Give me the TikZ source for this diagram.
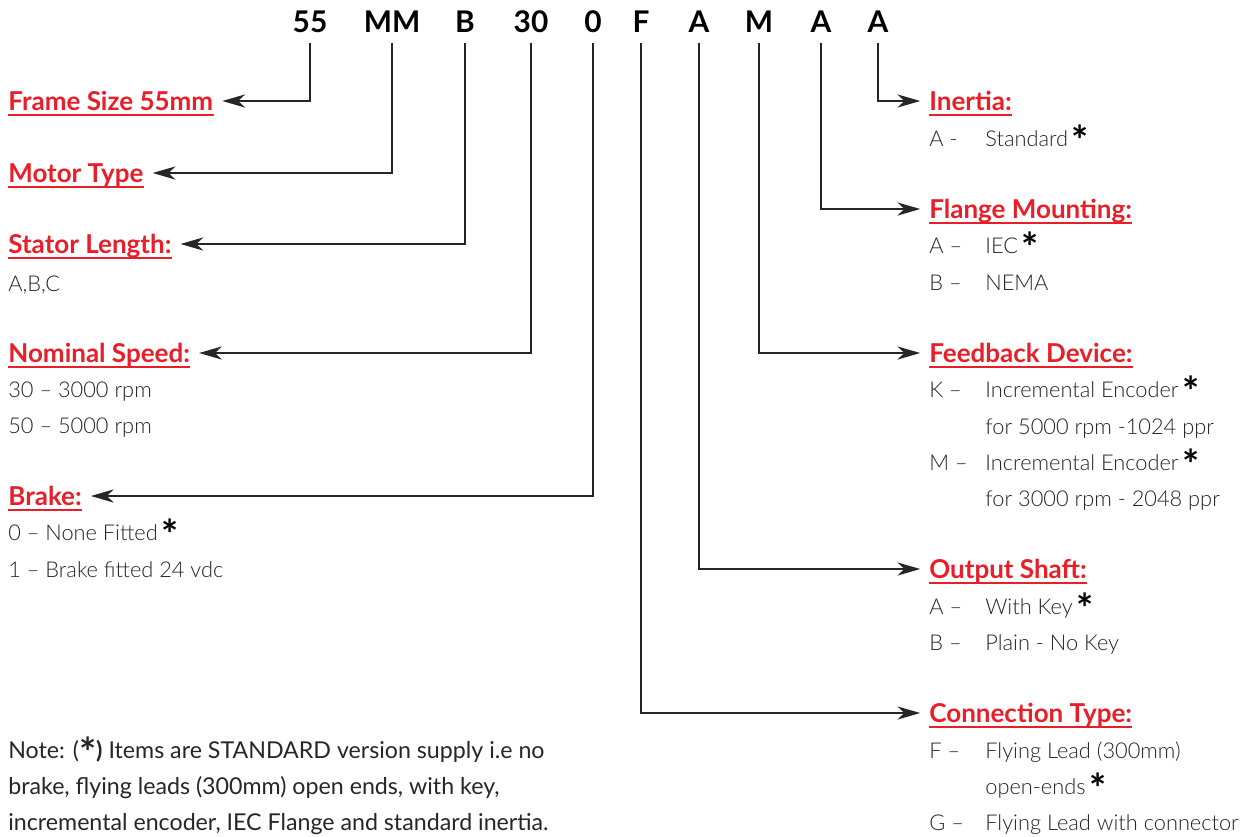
\documentclass[tikz,border=0pt]{standalone}
\usepackage{fontspec}
\IfFontExistsTF{Lato Light}{\setmainfont{Lato}[UprightFont={* Light}]}{\setmainfont{Lato}}
\newfontfamily\latofont{Lato}
\usetikzlibrary{arrows.meta}
\definecolor{hdred}{RGB}{232,30,40}
\definecolor{bodygray}{RGB}{35,35,35}
\newcommand{\std}{\,\raisebox{-5.4pt}{\latofont\bfseries\fontsize{23}{23}\selectfont\color{black}*}}

\begin{document}
\begin{tikzpicture}[x=0.02cm, y=-0.02cm,
    code/.style={font=\fontsize{17}{17}\selectfont\latofont\bfseries, anchor=base, inner sep=0pt, text depth=0pt, outer ysep=6pt},
    head/.style={font=\fontsize{14.8}{15}\selectfont\latofont\bfseries, text=hdred, anchor=west, inner sep=0pt, text height=10.7pt, text depth=0pt},
    item/.style={font=\fontsize{12.4}{13}\selectfont, text=bodygray, anchor=base west, inner sep=0pt},
    note/.style={font=\fontsize{13.2}{14}\selectfont\latofont, text=black!85, anchor=base west, inner sep=0pt},
    lead/.style={draw=black!85, line width=0.85pt, shorten >=5pt, -{Stealth[length=13pt, width=7.5pt, inset=4pt]}},
    uline/.style={draw=hdred, line width=1.1pt}]
  \useasboundingbox (0,0) rectangle (1245,836);

  % part number
  \node[code] (c55) at (310,32) {55};
  \node[code] (cMM) at (392,32) {MM};
  \node[code] (cB)  at (465,32) {B};
  \node[code] (c30) at (531,32) {30};
  \node[code] (c0)  at (593,32) {0};
  \node[code] (cF)  at (641,32) {F};
  \node[code] (cA1) at (699,32) {A};
  \node[code] (cM)  at (759,32) {M};
  \node[code] (cA2) at (821,32) {A};
  \node[code] (cA3) at (878,32) {A};

  % left headings
  \node[head] (frame)  at (8,101) {Frame Size 55mm};
  \node[head] (motor)  at (8,173) {Motor Type};
  \node[head] (stator) at (8,244) {Stator Length:\ };
  \node[head] (speed)  at (8,353) {Nominal Speed:};
  \node[head] (brake)  at (8,496) {Brake:};

  % right headings
  \node[head] (inertia)  at (929,101) {Inertia:};
  \node[head] (flange)   at (929,209) {Flange Mounting:};
  \node[head] (feedback) at (929,353) {Feedback Device:};
  \node[head] (shaft)    at (929,569) {Output Shaft:};
  \node[head] (conn)     at (929,713) {Connection Type:};

  \foreach \h in {frame,motor,stator,speed,brake,inertia,flange,feedback,shaft,conn}
    \draw[uline] ([yshift=-2.2pt]\h.south west) -- ([yshift=-2.2pt]\h.south east);

  % leads
  \draw[lead] (c55.south) |- (frame.east);
  \draw[lead] (cMM.south) |- (motor.east);
  \draw[lead] (cB.south)  |- (stator.east);
  \draw[lead] (c30.south) |- (speed.east);
  \draw[lead] (c0.south)  |- (brake.east);
  \draw[lead] (cF.south)  |- (conn.west);
  \draw[lead] (cA1.south) |- (shaft.west);
  \draw[lead] (cM.south)  |- (feedback.west);
  \draw[lead] (cA2.south) |- (flange.west);
  \draw[lead] (cA3.south) |- (inertia.west);

  % left options
  \node[item] (sABC) at (8,291) {A,B,C};
  \node[item] (n30)  at (8,397) {30 -- 3000 rpm};
  \node[item] (n50)  at (8,433) {50 -- 5000 rpm};
  \node[item] (b0)   at (8,540) {0 -- None Fitted\std};
  \node[item] (b1)   at (8,577) {1 -- Brake fitted 24 vdc};

  % right options
  \node[item] (iA)  at (929,146) {A -};
  \node[item] (iAd) at (985,146) {Standard\std};
  \node[item] (fA)  at (929,253) {A --};
  \node[item] (fAd) at (985,253) {IEC\std};
  \node[item] (fB)  at (929,290) {B --};
  \node[item] (fBd) at (985,290) {NEMA};
  \node[item] (eK)  at (929,397) {K --};
  \node[item] (eKd) at (985,397) {Incremental Encoder\std};
  \node[item] (eKe) at (985,434) {for 5000 rpm -1024 ppr};
  \node[item] (eM)  at (929,470) {M --};
  \node[item] (eMd) at (985,470) {Incremental Encoder\std};
  \node[item] (eMe) at (985,506) {for 3000 rpm - 2048 ppr};
  \node[item] (sA)  at (929,614) {A --};
  \node[item] (sAd) at (985,614) {With Key\std};
  \node[item] (sB)  at (929,650) {B --};
  \node[item] (sBd) at (985,650) {Plain - No Key};
  \node[item] (tF)  at (929,758) {F --};
  \node[item] (tFd) at (985,758) {Flying Lead (300mm)};
  \node[item] (tFe) at (985,794) {open-ends\std};
  \node[item] (tG)  at (929,830) {G --};
  \node[item] (tGd) at (985,830) {Flying Lead with connector};

  % note
  \node[note] (note1) at (8,758) {Note: (\raisebox{-5.4pt}{\bfseries\fontsize{23}{23}\selectfont*}{\bfseries)} Items are STANDARD version supply i.e no};
  \node[note] (note2) at (8,794) {brake, flying leads (300mm) open ends, with key,};
  \node[note] (note3) at (8,830) {incremental encoder, IEC Flange and standard inertia.};
\end{tikzpicture}
\end{document}
